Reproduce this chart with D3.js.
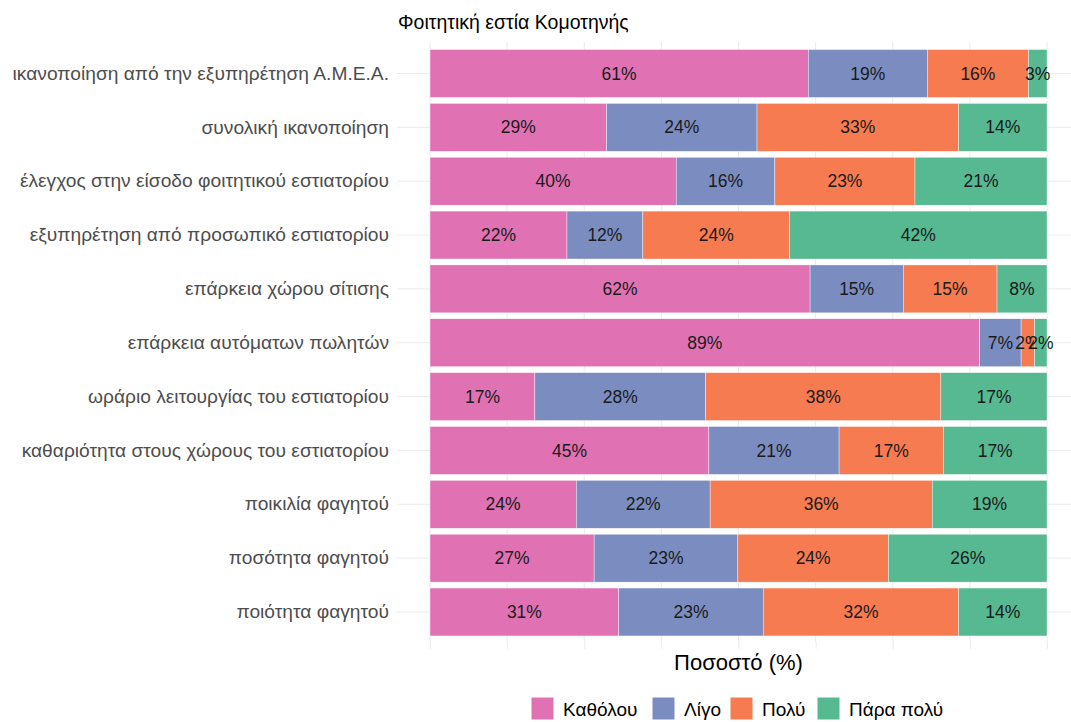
<!DOCTYPE html>
<html>
<head>
<meta charset="utf-8">
<script src="https://cdn.jsdelivr.net/npm/d3@7"></script>
<style>
  body { margin: 0; background: #fff; }
  svg { font-family: "Liberation Sans", Arial, sans-serif; }
</style>
</head>
<body>
<svg id="chart" width="1071" height="722"></svg>
<script>
// Ερωτήσεις (από πάνω προς τα κάτω)
const categories = [
    'ικανοποίηση από την εξυπηρέτηση Α.Μ.Ε.Α.',
    'συνολική ικανοποίηση',
    'έλεγχος στην είσοδο φοιτητικού εστιατορίου',
    'εξυπηρέτηση από προσωπικό εστιατορίου',
    'επάρκεια χώρου σίτισης',
    'επάρκεια αυτόματων πωλητών',
    'ωράριο λειτουργίας του εστιατορίου',
    'καθαριότητα στους χώρους του εστιατορίου',
    'ποικιλία φαγητού',
    'ποσότητα φαγητού',
    'ποιότητα φαγητού'
];

const levels = ['Καθόλου', 'Λίγο', 'Πολύ', 'Πάρα πολύ'];
const levelColors = ['#E072B4', '#7B8DC0', '#F77B51', '#56B991'];

// ποσοστά ανά επίπεδο, με τη σειρά των categories
const katholou  = [61.3, 28.6, 39.9, 22.2, 61.6, 89.1, 17.0, 45.2, 23.7, 26.6, 30.6];
const ligo      = [19.3, 24.4, 16.0, 12.3, 15.1,  6.7, 27.7, 21.1, 21.7, 23.3, 23.4];
const poly      = [16.4, 32.7, 22.7, 23.8, 15.2,  2.2, 38.1, 16.9, 36.0, 24.4, 31.7];
const paraPoly  = [ 3.0, 14.3, 21.4, 41.7,  8.1,  2.0, 17.2, 16.8, 18.6, 25.7, 14.3];

const xTicks = [0, 12.5, 25, 37.5, 50, 62.5, 75, 87.5, 100];

const rows = categories.map((c, i) => ({
    category: c,
    'Καθόλου': katholou[i],
    'Λίγο': ligo[i],
    'Πολύ': poly[i],
    'Πάρα πολύ': paraPoly[i]
}));

const svg = d3.select('#chart');

const x = d3.scaleLinear().domain([0, 100]).range([430, 1047]);
const y = d3.scaleBand()
    .domain(categories)
    .range([73.5 - 53.85 / 2, 612 + 53.85 / 2])
    .paddingInner(0.11)
    .paddingOuter(0.055);
const color = d3.scaleOrdinal().domain(levels).range(levelColors);

const gridColor = '#ebebeb';

// κάθετες γραμμές πλέγματος
svg.append('g').selectAll('line')
    .data(xTicks)
    .join('line')
    .attr('x1', d => x(d)).attr('x2', d => x(d))
    .attr('y1', 42).attr('y2', 642)
    .attr('stroke', gridColor)
    .attr('stroke-width', 1);

// οριζόντιες γραμμές πλέγματος
svg.append('g').selectAll('line')
    .data(categories)
    .join('line')
    .attr('x1', 397).attr('x2', 1071)
    .attr('y1', d => y(d) + y.bandwidth() / 2)
    .attr('y2', d => y(d) + y.bandwidth() / 2)
    .attr('stroke', gridColor)
    .attr('stroke-width', 1);

// ticks στον άξονα x
svg.append('g')
    .attr('transform', 'translate(0,642)')
    .call(d3.axisBottom(x).tickValues(xTicks).tickSize(7).tickFormat(''))
    .call(g => g.select('.domain').remove())
    .call(g => g.selectAll('line').attr('stroke', gridColor));

const stacked = d3.stack().keys(levels)(rows);

const layers = svg.append('g').selectAll('g')
    .data(stacked)
    .join('g')
    .attr('fill', d => color(d.key));

layers.selectAll('rect')
    .data(d => d)
    .join('rect')
    .attr('x', d => x(d[0]))
    .attr('width', d => x(d[1]) - x(d[0]))
    .attr('y', d => y(d.data.category))
    .attr('height', y.bandwidth())
    .attr('stroke', '#fff')
    .attr('stroke-width', 0.4);

// ετικέτες ποσοστών
layers.selectAll('text')
    .data(d => d)
    .join('text')
    .attr('x', d => (x(d[0]) + x(d[1])) / 2)
    .attr('y', d => y(d.data.category) + y.bandwidth() / 2)
    .attr('dy', '0.35em')
    .attr('text-anchor', 'middle')
    .attr('font-size', '17.5px')
    .attr('fill', '#1a1a1a')
    .text(d => Math.round(d[1] - d[0]) + '%');

// άξονας y
svg.append('g')
    .attr('transform', 'translate(397,0)')
    .call(d3.axisLeft(y).tickSize(0).tickPadding(8))
    .call(g => g.select('.domain').remove())
    .call(g => g.selectAll('text')
        .attr('font-size', '19.2px')
        .attr('fill', '#4d4d4d')
        .attr('font-family', '"Liberation Sans", Arial, sans-serif'));

// τίτλος
svg.append('text')
    .attr('x', 398).attr('y', 29)
    .attr('font-size', '19.5px')
    .attr('fill', '#000')
    .text('Φοιτητική εστία Κομοτηνής');

// τίτλος άξονα
svg.append('text')
    .attr('x', x(50)).attr('y', 670)
    .attr('text-anchor', 'middle')
    .attr('font-size', '22px')
    .attr('fill', '#000')
    .text('Ποσοστό (%)');

// υπόμνημα
const legendItems = [
    { key: 'Καθόλου', x: 531 },
    { key: 'Λίγο', x: 652 },
    { key: 'Πολύ', x: 730 },
    { key: 'Πάρα πολύ', x: 817 }
];
const legend = svg.append('g');
legendItems.forEach(item => {
    legend.append('rect')
        .attr('x', item.x).attr('y', 697)
        .attr('width', 23).attr('height', 23)
        .attr('fill', color(item.key))
        .attr('stroke', '#fff');
    legend.append('text')
        .attr('x', item.x + 32).attr('y', 716)
        .attr('font-size', '19px')
        .attr('fill', '#000')
        .text(item.key);
});
</script>
</body>
</html>
